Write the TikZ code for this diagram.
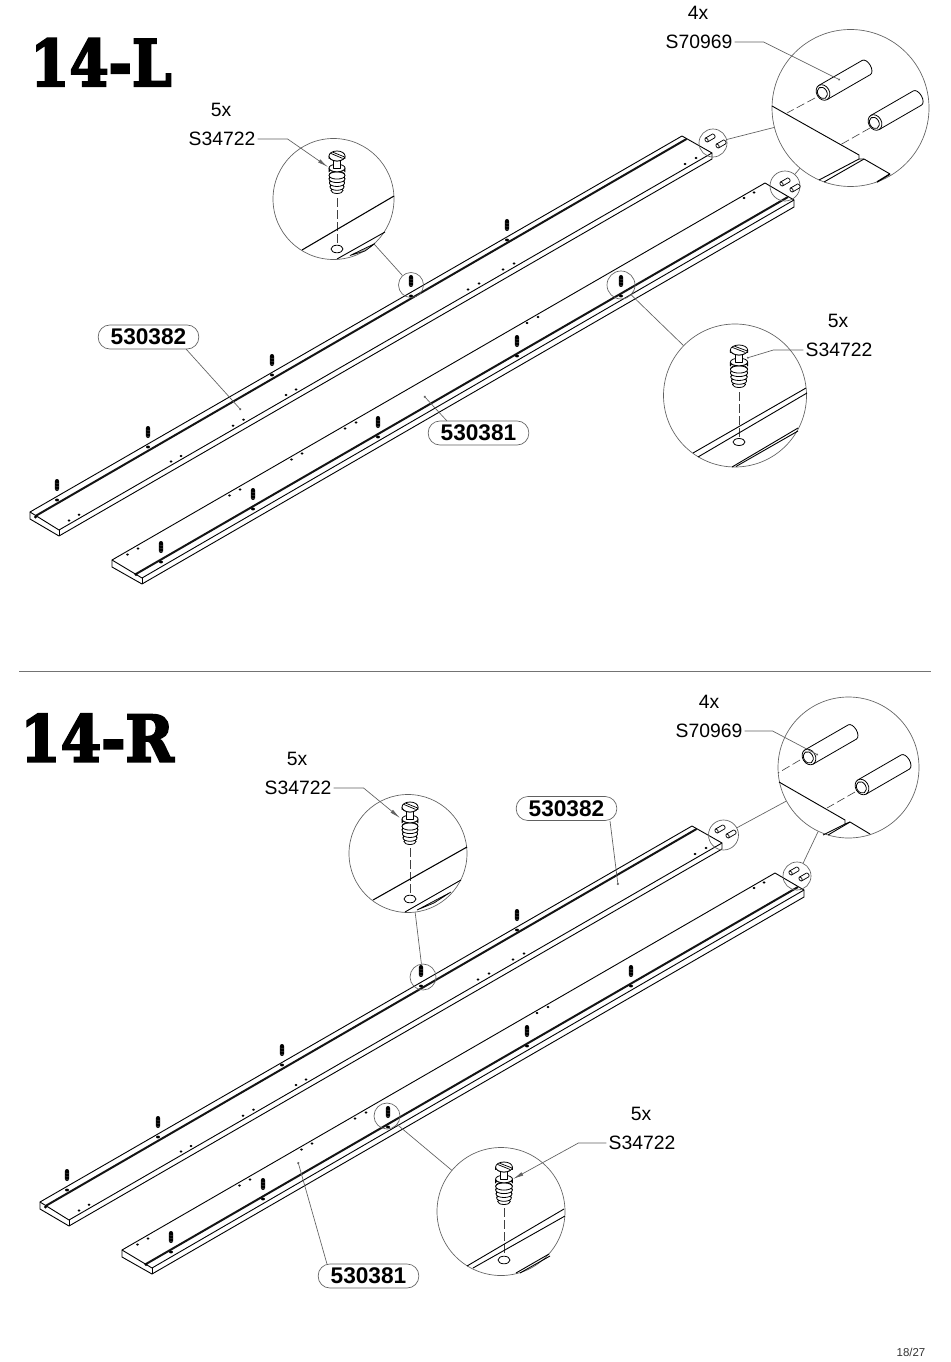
\documentclass[tikz,border=0pt]{standalone}
\usepackage{fontspec}
\setmainfont{Liberation Sans}
\newfontfamily\stencilish[FakeBold=3.5]{DejaVu Serif Bold}
\usetikzlibrary{arrows.meta}
\definecolor{lensgray}{gray}{0.38}
\definecolor{ruleg}{gray}{0.45}
\tikzset{
  edge line/.style={line width=0.68pt,black,line join=round},
  groove line/.style={line width=1.5pt,black!92},
  lens/.style={circle,draw=lensgray,line width=0.5pt,inner sep=0pt,minimum size=#1*1.5pt},
  call/.style={font=\fontsize{14.5}{16}\selectfont,text=black,inner sep=0pt},
  part/.style={draw=lensgray,line width=0.5pt,rounded corners=8.8pt,minimum width=75.5pt,minimum height=18pt,inner sep=0pt,font=\fontsize{17}{18}\selectfont\bfseries,fill=white},
  leader/.style={draw=lensgray,line width=0.5pt},
  hidden axis/.style={line width=0.45pt,black!75,dash pattern=on 6.5pt off 2.6pt},
  title text/.style={font=\fontsize{48}{54}\selectfont\stencilish,inner sep=0pt,anchor=base west},
  part line/.style={line width=0.6pt,black,fill=white,line join=round}
}
\newcommand{\miniscrew}[2]{%
  \fill[black] (#1-2.1,#2-6) [rounded corners=1.6pt] rectangle (#1+2.1,#2+6);
  \foreach \t in {-2,1,4}{\draw[black!55,line width=0.2pt] (#1-2,#2+\t) -- (#1+2,#2+\t+0.5);}
  \fill[black] (#1,#2+15) ellipse [x radius=2,y radius=1.4];
}
\newcommand{\holepair}[4]{%
  \fill[black] (#1,#2) ellipse [x radius=1.5,y radius=1.2];
  \fill[black] (#3,#4) ellipse [x radius=1.5,y radius=1.2];
}
\newcommand{\beamA}{%
  \draw[edge line] (30,512)--(682,136)--(712,153)--(712,159)--(59,536)--(30,519)--cycle;
  \draw[edge line] (30,512)--(59,530)--(712,153);
  \draw[edge line] (59,530)--(59,536);
  \draw[groove line] (35.5,516)--(686.5,139);
  \fill[black] (35.5,517) circle (1.6);
  \holepair{69}{520.5}{79}{514.7}
  \holepair{171}{461.5}{181}{456}
  \holepair{233}{425.7}{243.5}{419.7}
  \holepair{286}{395}{296}{389.5}
  \holepair{468}{289.5}{479}{283.5}
  \holepair{503}{269.5}{514}{263.5}
  \holepair{685}{164}{696}{158}
  \miniscrew{57}{485}\miniscrew{148}{432}\miniscrew{272}{360}\miniscrew{411}{281}\miniscrew{507}{225}
}
\newcommand{\beamB}{%
  \draw[edge line] (112,560)--(765,183)--(794,200)--(794,207)--(142,584)--(112,567)--cycle;
  \draw[edge line] (112,560)--(142,578)--(794,200);
  \draw[edge line] (142,578)--(142,584);
  \draw[groove line] (136,574)--(788,197);
  \fill[black] (136,574.5) circle (1.6);
  \holepair{127.5}{554.5}{138}{548.5}
  \holepair{229.5}{495.5}{240}{489.5}
  \holepair{291.5}{459.5}{302}{453.5}
  \holepair{345}{428.5}{356}{422.5}
  \holepair{527}{323}{538}{317}
  \holepair{744}{198}{754}{192.5}
  \miniscrew{161}{547}\miniscrew{253}{494}\miniscrew{378}{422}\miniscrew{517}{341}\miniscrew{621}{281}
}
% front end of the pin at #1,#2, length #3, radius #4
\newcommand{\bigpin}[4]{%
  \begin{scope}[shift={(#1,#2)},rotate=30]
    \draw[part line] (0,-#4) -- (#3,-#4) arc[start angle=-90,end angle=90,x radius=#4*0.55,y radius=#4] -- (0,#4) -- cycle;
    \draw[part line] (0,0) ellipse [x radius=#4*0.78,y radius=#4];
    \draw[part line] (-0.8,0) ellipse [x radius=#4*0.56,y radius=#4*0.74];
  \end{scope}
}
\newcommand{\minipin}[2]{%
  \begin{scope}[shift={(#1,#2)},rotate=30]
    \draw[line width=0.55pt,fill=white] (-4,-2.2) -- (4,-2.2) arc[start angle=-90,end angle=90,x radius=1.4,y radius=2.2] -- (-4,2.2) arc[start angle=90,end angle=270,x radius=1.4,y radius=2.2] -- cycle;
    \draw[line width=0.55pt] (-4,-2.2) arc[start angle=-90,end angle=90,x radius=1.4,y radius=2.2];
  \end{scope}
}
% screw: head centre #1,#2, width factor #3
\newcommand{\bigscrew}[3]{%
  \begin{scope}[shift={(#1,#2)},xscale=#3]
    \foreach \yy/\rx/\ry in {34.5/6/3,31/7/3.3,27/7.6/3.5,23/8/3.6,19.5/8/3.6}{
      \draw[part line] (0,\yy) ellipse [x radius=\rx,y radius=\ry];
      \draw[line width=0.55pt] (-\rx,\yy) arc[start angle=180,end angle=360,x radius=\rx,y radius=\ry*1.25];
    }
    \draw[part line] (-8,12) -- (-8,16) arc[start angle=180,end angle=360,x radius=8,y radius=3.8] -- (8,12) arc[start angle=0,end angle=180,x radius=8,y radius=3.8];
    \draw[part line] (0,12) ellipse [x radius=8,y radius=3.8];
    \draw[part line] (-3.4,3) rectangle (3.4,12);
    \draw[part line] (-8,0) -- (-8,2.5) arc[start angle=180,end angle=360,x radius=8,y radius=5] -- (8,0) arc[start angle=0,end angle=180,x radius=8,y radius=5];
    \draw[part line] (0,0) ellipse [x radius=8,y radius=5];
    \draw[line width=0.55pt] (-6.2,-2.6) -- (5.6,2.4) (-4.2,-3.8) -- (7.2,0.8);
  \end{scope}
}
\begin{document}
\begin{tikzpicture}[x=0.75pt,y=-0.75pt]
\useasboundingbox[fill=white] (0,0) rectangle (950,1362);

% ---------- titles
\node[title text,xscale=0.88] (t14l) at (30,86) {14-L};
\node[title text,xscale=0.91] (t14r) at (20,761.5) {14-R};
\draw[draw=ruleg,line width=0.5pt] (19,671.5) -- (931,671.5);
\node[font=\fontsize{8.6}{10}\selectfont,text=black!80,inner sep=0pt] (pageno) at (911,1352) {18/27};

% ---------- beams
\beamA
\beamB
\begin{scope}[shift={(10,690)}]
  \beamA
  \beamB
\end{scope}

% ---------- lenses
\node[lens=78.5] (L1) at (850.5,108) {};
\node[lens=14] (L1a) at (713,143) {};
\node[lens=15] (L1b) at (785,186) {};
\node[lens=60.5] (L2) at (333.5,199) {};
\node[lens=12.5] (L2a) at (411,285) {};
\node[lens=71.5] (L3) at (735,395.5) {};
\node[lens=14] (L3a) at (621,285) {};
\node[lens=70.5] (L4) at (848.5,767.5) {};
\node[lens=15] (L4a) at (723.5,835) {};
\node[lens=14] (L4b) at (797,876) {};
\node[lens=59] (L5) at (408,853.5) {};
\node[lens=13] (L5a) at (423,977) {};
\node[lens=64] (L6) at (501,1211.5) {};
\node[lens=13] (L6a) at (387,1116) {};
\foreach \a/\b in {L1/L1a,L1/L1b,L2/L2a,L3/L3a,L4/L4a,L4/L4b,L5/L5a,L6/L6a}{\draw[leader] (\a) -- (\b);}

% mini pins
\minipin{710}{138}\minipin{721}{144}\minipin{785}{182}\minipin{795}{188}
\minipin{720}{829}\minipin{731}{834}\minipin{794}{871}\minipin{804}{877}

% ---------- lens 1 content
\draw[hidden axis] (815,98) -- (787,113);
\draw[hidden axis] (870,128) -- (840,145);
\bigpin{823}{92.5}{50}{8.2}
\bigpin{875}{122.5}{49}{8.2}
\draw[edge line] (772,106) -- (859,155) -- (859,159) -- (819,180);
\draw[edge line] (859,159) -- (864,159) -- (890,174);
\draw[edge line] (864,159) -- (858,162.5) -- (824,182);
\draw[line width=1.1pt] (890,174) -- (877,182);

% ---------- lens 4 content
\draw[hidden axis] (800,760) -- (778,773);
\draw[hidden axis] (855,792) -- (827,808);
\bigpin{809}{757}{50}{8.2}
\bigpin{862}{787}{50}{8.2}
\draw[edge line] (779,782) -- (845,820) -- (845,824) -- (823,835);
\draw[edge line] (845,824) -- (850,822) -- (870,834);
\draw[edge line] (850,822) -- (845,825) -- (828,835);

% ---------- lens 2 content
\draw[hidden axis] (337,198) -- (337,243);
\draw[part line] (337,249) ellipse [x radius=6,y radius=3.8];
\draw[line width=0.8pt] (302,250) -- (394,196);
\draw[edge line] (337,259) -- (385,232);
\draw[line width=0.5pt,fill=black!35] (350,255.5) -- (375,243.5) -- (365,251) -- cycle;
\bigscrew{337}{156}{1}

% ---------- lens 3 content
\draw[hidden axis] (739,392) -- (739,438);
\draw[part line] (739,442) ellipse [x radius=6,y radius=3.5];
\draw[edge line] (693,453) -- (806,388);
\draw[edge line] (698,457) -- (807,393);
\draw[edge line] (732,467) -- (798,428);
\draw[edge line] (736,466.5) -- (798,431);
\bigscrew{739}{350}{1.08}

% ---------- lens 5 content
\draw[hidden axis] (410,848) -- (410,895);
\draw[part line] (410,899) ellipse [x radius=6,y radius=3.8];
\draw[line width=0.8pt] (373,900) -- (467,847);
\draw[edge line] (405,912) -- (461,880);
\draw[line width=0.5pt,fill=black!35] (417,910) -- (451,892) -- (434,903) -- cycle;
\bigscrew{410}{807}{1}

% ---------- lens 6 content
\draw[hidden axis] (504,1208) -- (504,1255);
\draw[part line] (504,1260) ellipse [x radius=6,y radius=3.8];
\draw[edge line] (467,1266) -- (564,1209);
\draw[edge line] (473,1268) -- (565,1216);
\draw[edge line] (516,1273) -- (549,1254);
\draw[edge line] (520,1273) -- (550,1256);
\bigscrew{504}{1167}{1.05}

% ---------- captions
\node[call] (n1) at (698,13) {4x};
\node[call] (s1) at (699,42) {S70969};
\node[call] (n2) at (221,110) {5x};
\node[call] (s2) at (222,139) {S34722};
\node[call] (n3) at (838,321) {5x};
\node[call] (s3) at (839,350) {S34722};
\node[call] (n4) at (709,702) {4x};
\node[call] (s4) at (709,731) {S70969};
\node[call] (n5) at (297,759) {5x};
\node[call] (s5) at (298,788) {S34722};
\node[call] (n6) at (641,1114) {5x};
\node[call] (s6) at (642,1143) {S34722};

\coordinate (e1) at (840,80);
\coordinate (e2) at (328,167);
\coordinate (e3) at (747,358);
\coordinate (e4) at (818,755);
\coordinate (e5) at (400,818);
\coordinate (e6) at (513,1179);
\draw[leader,-{Circle[length=1.4pt]}] (s1.east) ++(2,0) -- ++(29,0) -- (e1);
\draw[leader,-{Latex[length=8pt,width=2.8pt]}] (s2.east) ++(2,0) -- ++(30,0) -- (e2);
\draw[leader,-{Circle[length=1.4pt]}] (s3.west) ++(-2,0) -- ++(-30,0) -- (e3);
\draw[leader,-{Circle[length=1.4pt]}] (s4.east) ++(2,0) -- ++(28,0) -- (e4);
\draw[leader,-{Latex[length=8pt,width=2.8pt]}] (s5.east) ++(2,0) -- ++(30,0) -- (e5);
\draw[leader,-{Latex[length=8pt,width=2.8pt]}] (s6.west) ++(-2,0) -- ++(-28,0) -- (e6);

% ---------- part numbers
\node[part] (p1) at (148.5,337) {530382};
\node[part] (p2) at (478.5,433) {530381};
\node[part] (p3) at (566.5,808.5) {530382};
\node[part] (p4) at (368.5,1276) {530381};
\coordinate (q1) at (241,410);
\coordinate (q2) at (424,396);
\coordinate (q3) at (618,885);
\coordinate (q4) at (298,1162);
\draw[leader,-{Circle[length=1.6pt]}] (186,349) -- (q1);
\draw[leader,-{Circle[length=1.6pt]}] (447,421) -- (q2);
\draw[leader,-{Circle[length=1.6pt]}] (610,821) -- (q3);
\draw[leader,-{Circle[length=1.6pt]}] (327,1264) -- (q4);
\end{tikzpicture}
\end{document}
